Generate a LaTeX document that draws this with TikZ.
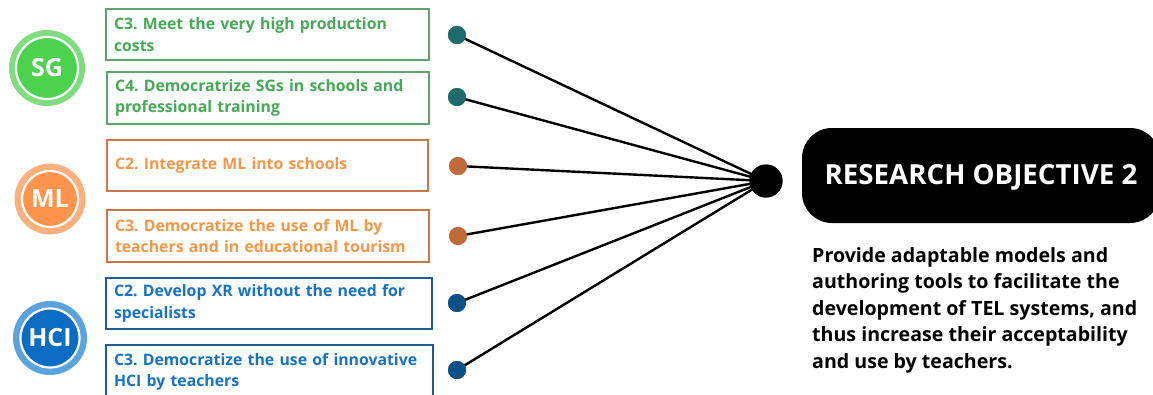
\documentclass[tikz,border=0pt]{standalone}
\usepackage{fontspec}
\setmainfont{Open Sans}
\frenchspacing
\definecolor{sgtext}{HTML}{45A955}
\definecolor{sgborder}{HTML}{5FA36E}
\definecolor{sgouter}{HTML}{7FDC7F}
\definecolor{sginner}{HTML}{4CD24C}
\definecolor{mltext}{HTML}{F79646}
\definecolor{mlborder}{HTML}{C8784A}
\definecolor{mlouter}{HTML}{FFB07F}
\definecolor{mlinner}{HTML}{FF944D}
\definecolor{hcitext}{HTML}{1572C4}
\definecolor{hciborder}{HTML}{1F5C91}
\definecolor{hciouter}{HTML}{5BA3DC}
\definecolor{hciinner}{HTML}{0A6CC2}
\definecolor{dotteal}{HTML}{1E6B6B}
\definecolor{dotorange}{HTML}{C0693A}
\definecolor{dotblue}{HTML}{0C5088}
\begin{document}
\begin{tikzpicture}[x=1pt,y=-1pt,
  chbox/.style={draw, line width=2pt, rectangle, inner xsep=8pt, inner ysep=0pt,
    align=left, font=\fontsize{15.8}{21.5}\selectfont\bfseries},
  badge/.style={circle, draw=white, line width=2.2pt, text=white, inner sep=0pt,
    font=\fontsize{25}{28}\selectfont\bfseries},
  dotnode/.style={circle, inner sep=0pt, minimum size=18pt},
  link/.style={line width=2.4pt, black}
]
\useasboundingbox (0,0) rectangle (1153,394);
\begin{scope}
\clip (0,0) rectangle (1153,394);
% badges
\fill[sgouter] (47,68) circle (38);
\node[badge, fill=sginner, minimum size=62pt] (sg) at (47,68) {SG};
\fill[mlouter] (50,199) circle (35.5);
\node[badge, fill=mlinner, minimum size=56pt] (ml) at (50,199) {ML};
\fill[hciouter] (50,338) circle (37);
\node[badge, fill=hciinner, minimum size=59pt] (hci) at (50,338) {HCI};
% challenge boxes
\node[chbox, draw=sgborder, text=sgtext, minimum width=323pt, minimum height=51pt, text width=307pt] (b1) at (267.5,34.5)
  {C3. Meet the very high production\\costs};
\node[chbox, draw=sgborder, text=sgtext, minimum width=322pt, minimum height=52pt, text width=306pt] (b2) at (268,98)
  {C4. Democratrize SGs in schools and\\professional training};
\node[chbox, draw=mlborder, text=mltext, minimum width=321pt, minimum height=51pt, text width=305pt] (b3) at (267.5,165.5)
  {C2. Integrate ML into schools};
\node[chbox, draw=mlborder, text=mltext, minimum width=322pt, minimum height=52pt, text width=306pt] (b4) at (268,236)
  {C3. Democratize the use of ML by\\teachers and in educational tourism};
\node[chbox, draw=hciborder, text=hcitext, minimum width=326pt, minimum height=51pt, text width=310pt] (b5) at (269,303.5)
  {C2. Develop XR without the need for\\specialists};
\node[chbox, draw=hciborder, text=hcitext, minimum width=327pt, minimum height=54pt, text width=311pt] (b6) at (269.5,372)
  {C3. Democratize the use of innovative\\HCI by teachers};
% hub
\node[circle, fill=black, inner sep=0pt, minimum size=33pt] (hub) at (766,181) {};
% dots
\node[dotnode, fill=dotteal] (d1) at (457,35) {};
\node[dotnode, fill=dotteal] (d2) at (457,97) {};
\node[dotnode, fill=dotorange] (d3) at (458,166) {};
\node[dotnode, fill=dotorange] (d4) at (458,236) {};
\node[dotnode, fill=dotblue] (d5) at (457,303) {};
\node[dotnode, fill=dotblue] (d6) at (457,370) {};
\foreach \d in {d1,d2,d3,d4,d5,d6}{
  \draw[link] (\d.center) -- (hub.center);
}
\foreach \d/\c in {d1/dotteal,d2/dotteal,d3/dotorange,d4/dotorange,d5/dotblue,d6/dotblue}{
  \fill[\c] (\d) circle (9);
}
\fill[black] (hub) circle (16.5);
% objective
\fill[black, rounded corners=30pt] (802,128) rectangle (1160,223);
\node[text=white, font=\fontsize{27.7}{31}\selectfont\bfseries, inner sep=0pt] (ro) at (981,177) {RESEARCH OBJECTIVE 2};
\node[anchor=north west, inner sep=0pt, align=left, font=\fontsize{19.6}{26.5}\selectfont\bfseries] (desc) at (812,247)
  {Provide adaptable models and\\authoring tools to facilitate the\\development of TEL systems, and\\thus increase their acceptability\\and use by teachers.};
\end{scope}
\end{tikzpicture}
\end{document}
